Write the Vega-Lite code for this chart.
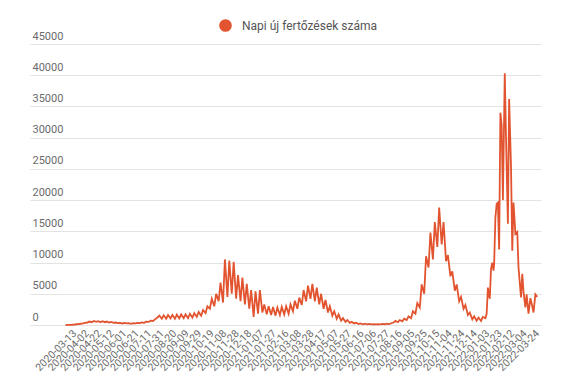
{
  "$schema": "https://vega.github.io/schema/vega-lite/v6.json",
  "width": 511,
  "height": 281,
  "autosize": {"type": "none"},
  "padding": {"left": 30, "top": 44, "right": 34, "bottom": 63},
  "background": "white",
  "config": {"view": {"stroke": null}, "font": "Roboto"},
  "data": {"values": [
    {"date": "2020-03-06", "cases": 0},
    {"date": "2020-03-09", "cases": 10},
    {"date": "2020-03-13", "cases": 20},
    {"date": "2020-03-16", "cases": 40},
    {"date": "2020-03-20", "cases": 80},
    {"date": "2020-03-23", "cases": 120},
    {"date": "2020-03-27", "cases": 150},
    {"date": "2020-03-30", "cases": 200},
    {"date": "2020-04-03", "cases": 250},
    {"date": "2020-04-06", "cases": 350},
    {"date": "2020-04-10", "cases": 400},
    {"date": "2020-04-13", "cases": 550},
    {"date": "2020-04-17", "cases": 450},
    {"date": "2020-04-20", "cases": 650},
    {"date": "2020-04-24", "cases": 500},
    {"date": "2020-04-27", "cases": 600},
    {"date": "2020-05-01", "cases": 450},
    {"date": "2020-05-04", "cases": 600},
    {"date": "2020-05-08", "cases": 450},
    {"date": "2020-05-11", "cases": 550},
    {"date": "2020-05-15", "cases": 400},
    {"date": "2020-05-18", "cases": 500},
    {"date": "2020-05-22", "cases": 350},
    {"date": "2020-05-25", "cases": 400},
    {"date": "2020-05-29", "cases": 300},
    {"date": "2020-06-01", "cases": 350},
    {"date": "2020-06-05", "cases": 250},
    {"date": "2020-06-08", "cases": 350},
    {"date": "2020-06-12", "cases": 250},
    {"date": "2020-06-15", "cases": 300},
    {"date": "2020-06-19", "cases": 200},
    {"date": "2020-06-22", "cases": 300},
    {"date": "2020-06-26", "cases": 250},
    {"date": "2020-06-29", "cases": 350},
    {"date": "2020-07-03", "cases": 300},
    {"date": "2020-07-06", "cases": 400},
    {"date": "2020-07-10", "cases": 350},
    {"date": "2020-07-13", "cases": 550},
    {"date": "2020-07-17", "cases": 500},
    {"date": "2020-07-20", "cases": 700},
    {"date": "2020-07-24", "cases": 650},
    {"date": "2020-07-27", "cases": 900},
    {"date": "2020-07-31", "cases": 1200},
    {"date": "2020-08-03", "cases": 1500},
    {"date": "2020-08-07", "cases": 1000},
    {"date": "2020-08-10", "cases": 1550},
    {"date": "2020-08-14", "cases": 1000},
    {"date": "2020-08-17", "cases": 1600},
    {"date": "2020-08-21", "cases": 1050},
    {"date": "2020-08-24", "cases": 1600},
    {"date": "2020-08-28", "cases": 1000},
    {"date": "2020-08-31", "cases": 1650},
    {"date": "2020-09-04", "cases": 1050},
    {"date": "2020-09-07", "cases": 1700},
    {"date": "2020-09-11", "cases": 1100},
    {"date": "2020-09-14", "cases": 1700},
    {"date": "2020-09-18", "cases": 1100},
    {"date": "2020-09-21", "cases": 1800},
    {"date": "2020-09-25", "cases": 1200},
    {"date": "2020-09-28", "cases": 1900},
    {"date": "2020-10-02", "cases": 1300},
    {"date": "2020-10-05", "cases": 2100},
    {"date": "2020-10-09", "cases": 1500},
    {"date": "2020-10-12", "cases": 2400},
    {"date": "2020-10-16", "cases": 1900},
    {"date": "2020-10-19", "cases": 3000},
    {"date": "2020-10-23", "cases": 2600},
    {"date": "2020-10-26", "cases": 4200},
    {"date": "2020-10-30", "cases": 3000},
    {"date": "2020-11-02", "cases": 5000},
    {"date": "2020-11-06", "cases": 3800},
    {"date": "2020-11-09", "cases": 6800},
    {"date": "2020-11-13", "cases": 3600},
    {"date": "2020-11-16", "cases": 10500},
    {"date": "2020-11-20", "cases": 4500},
    {"date": "2020-11-23", "cases": 10300},
    {"date": "2020-11-27", "cases": 5000},
    {"date": "2020-11-30", "cases": 10100},
    {"date": "2020-12-04", "cases": 4200},
    {"date": "2020-12-07", "cases": 8000},
    {"date": "2020-12-11", "cases": 3800},
    {"date": "2020-12-14", "cases": 7600},
    {"date": "2020-12-18", "cases": 3300},
    {"date": "2020-12-21", "cases": 6600},
    {"date": "2020-12-25", "cases": 2600},
    {"date": "2020-12-28", "cases": 5600},
    {"date": "2021-01-01", "cases": 1300},
    {"date": "2021-01-04", "cases": 5400},
    {"date": "2021-01-08", "cases": 1800},
    {"date": "2021-01-11", "cases": 5600},
    {"date": "2021-01-15", "cases": 2000},
    {"date": "2021-01-18", "cases": 3300},
    {"date": "2021-01-22", "cases": 1700},
    {"date": "2021-01-25", "cases": 3000},
    {"date": "2021-01-29", "cases": 1600},
    {"date": "2021-02-01", "cases": 2900},
    {"date": "2021-02-05", "cases": 1500},
    {"date": "2021-02-08", "cases": 2800},
    {"date": "2021-02-12", "cases": 1600},
    {"date": "2021-02-15", "cases": 2900},
    {"date": "2021-02-19", "cases": 1700},
    {"date": "2021-02-22", "cases": 3000},
    {"date": "2021-02-26", "cases": 1800},
    {"date": "2021-03-01", "cases": 3300},
    {"date": "2021-03-05", "cases": 2200},
    {"date": "2021-03-08", "cases": 3900},
    {"date": "2021-03-12", "cases": 2600},
    {"date": "2021-03-15", "cases": 4400},
    {"date": "2021-03-19", "cases": 3200},
    {"date": "2021-03-22", "cases": 5600},
    {"date": "2021-03-26", "cases": 3800},
    {"date": "2021-03-29", "cases": 6300},
    {"date": "2021-04-02", "cases": 4200},
    {"date": "2021-04-05", "cases": 6600},
    {"date": "2021-04-09", "cases": 3800},
    {"date": "2021-04-12", "cases": 6000},
    {"date": "2021-04-16", "cases": 3300},
    {"date": "2021-04-19", "cases": 5000},
    {"date": "2021-04-23", "cases": 2600},
    {"date": "2021-04-26", "cases": 4000},
    {"date": "2021-04-30", "cases": 2000},
    {"date": "2021-05-03", "cases": 3000},
    {"date": "2021-05-07", "cases": 1500},
    {"date": "2021-05-10", "cases": 2200},
    {"date": "2021-05-14", "cases": 1000},
    {"date": "2021-05-17", "cases": 1700},
    {"date": "2021-05-21", "cases": 700},
    {"date": "2021-05-24", "cases": 1100},
    {"date": "2021-05-28", "cases": 500},
    {"date": "2021-05-31", "cases": 800},
    {"date": "2021-06-04", "cases": 350},
    {"date": "2021-06-07", "cases": 500},
    {"date": "2021-06-11", "cases": 250},
    {"date": "2021-06-14", "cases": 350},
    {"date": "2021-06-18", "cases": 150},
    {"date": "2021-06-21", "cases": 250},
    {"date": "2021-06-25", "cases": 120},
    {"date": "2021-06-28", "cases": 200},
    {"date": "2021-07-02", "cases": 100},
    {"date": "2021-07-05", "cases": 180},
    {"date": "2021-07-09", "cases": 100},
    {"date": "2021-07-12", "cases": 150},
    {"date": "2021-07-16", "cases": 100},
    {"date": "2021-07-19", "cases": 150},
    {"date": "2021-07-23", "cases": 110},
    {"date": "2021-07-26", "cases": 170},
    {"date": "2021-07-30", "cases": 120},
    {"date": "2021-08-02", "cases": 200},
    {"date": "2021-08-06", "cases": 150},
    {"date": "2021-08-09", "cases": 280},
    {"date": "2021-08-13", "cases": 400},
    {"date": "2021-08-16", "cases": 650},
    {"date": "2021-08-20", "cases": 450},
    {"date": "2021-08-23", "cases": 800},
    {"date": "2021-08-27", "cases": 600},
    {"date": "2021-08-30", "cases": 1000},
    {"date": "2021-09-03", "cases": 800},
    {"date": "2021-09-06", "cases": 1400},
    {"date": "2021-09-10", "cases": 1100},
    {"date": "2021-09-13", "cases": 2200},
    {"date": "2021-09-17", "cases": 1800},
    {"date": "2021-09-20", "cases": 3500},
    {"date": "2021-09-24", "cases": 2800},
    {"date": "2021-09-27", "cases": 6500},
    {"date": "2021-10-01", "cases": 5000},
    {"date": "2021-10-04", "cases": 11000},
    {"date": "2021-10-08", "cases": 9200},
    {"date": "2021-10-11", "cases": 14800},
    {"date": "2021-10-15", "cases": 10500},
    {"date": "2021-10-18", "cases": 16500},
    {"date": "2021-10-22", "cases": 12500},
    {"date": "2021-10-25", "cases": 18800},
    {"date": "2021-10-29", "cases": 12900},
    {"date": "2021-11-01", "cases": 16500},
    {"date": "2021-11-05", "cases": 10200},
    {"date": "2021-11-08", "cases": 11200},
    {"date": "2021-11-12", "cases": 7800},
    {"date": "2021-11-15", "cases": 8600},
    {"date": "2021-11-19", "cases": 5500},
    {"date": "2021-11-22", "cases": 6500},
    {"date": "2021-11-26", "cases": 3800},
    {"date": "2021-11-29", "cases": 4500},
    {"date": "2021-12-03", "cases": 2600},
    {"date": "2021-12-06", "cases": 3200},
    {"date": "2021-12-10", "cases": 1600},
    {"date": "2021-12-13", "cases": 2000},
    {"date": "2021-12-17", "cases": 900},
    {"date": "2021-12-20", "cases": 1400},
    {"date": "2021-12-24", "cases": 700},
    {"date": "2021-12-27", "cases": 1200},
    {"date": "2021-12-31", "cases": 650},
    {"date": "2022-01-03", "cases": 1300},
    {"date": "2022-01-07", "cases": 1100},
    {"date": "2022-01-09", "cases": 1800},
    {"date": "2022-01-11", "cases": 6000},
    {"date": "2022-01-14", "cases": 4200},
    {"date": "2022-01-16", "cases": 9000},
    {"date": "2022-01-18", "cases": 10000},
    {"date": "2022-01-20", "cases": 8700},
    {"date": "2022-01-21", "cases": 9800},
    {"date": "2022-01-23", "cases": 17200},
    {"date": "2022-01-25", "cases": 19400},
    {"date": "2022-01-27", "cases": 19600},
    {"date": "2022-01-29", "cases": 12100},
    {"date": "2022-01-31", "cases": 34000},
    {"date": "2022-02-02", "cases": 32000},
    {"date": "2022-02-04", "cases": 20000},
    {"date": "2022-02-07", "cases": 40300},
    {"date": "2022-02-09", "cases": 30000},
    {"date": "2022-02-12", "cases": 16200},
    {"date": "2022-02-14", "cases": 36200},
    {"date": "2022-02-17", "cases": 25300},
    {"date": "2022-02-19", "cases": 11900},
    {"date": "2022-02-21", "cases": 19600},
    {"date": "2022-02-24", "cases": 14600},
    {"date": "2022-02-27", "cases": 14900},
    {"date": "2022-03-01", "cases": 9200},
    {"date": "2022-03-05", "cases": 4400},
    {"date": "2022-03-07", "cases": 8200},
    {"date": "2022-03-09", "cases": 5300},
    {"date": "2022-03-12", "cases": 2800},
    {"date": "2022-03-14", "cases": 4900},
    {"date": "2022-03-17", "cases": 1800},
    {"date": "2022-03-20", "cases": 4300},
    {"date": "2022-03-23", "cases": 3000},
    {"date": "2022-03-25", "cases": 2000},
    {"date": "2022-03-28", "cases": 4900},
    {"date": "2022-03-31", "cases": 4500}
  ]},
  "mark": {"type": "line", "strokeWidth": 1.8, "interpolate": "linear"},
  "encoding": {
    "x": {
      "field": "date",
      "type": "temporal",
      "scale": {"type": "utc", "domain": [{"year": 2020, "month": 1, "date": 9, "utc": true}, {"year": 2022, "month": 4, "date": 6, "utc": true}]},
      "axis": {
        "values": [
          {"year": 2020, "month": 3, "date": 13, "utc": true},
          {"year": 2020, "month": 4, "date": 2, "utc": true},
          {"year": 2020, "month": 4, "date": 22, "utc": true},
          {"year": 2020, "month": 5, "date": 12, "utc": true},
          {"year": 2020, "month": 6, "date": 1, "utc": true},
          {"year": 2020, "month": 6, "date": 21, "utc": true},
          {"year": 2020, "month": 7, "date": 11, "utc": true},
          {"year": 2020, "month": 7, "date": 31, "utc": true},
          {"year": 2020, "month": 8, "date": 20, "utc": true},
          {"year": 2020, "month": 9, "date": 9, "utc": true},
          {"year": 2020, "month": 9, "date": 29, "utc": true},
          {"year": 2020, "month": 10, "date": 19, "utc": true},
          {"year": 2020, "month": 11, "date": 8, "utc": true},
          {"year": 2020, "month": 11, "date": 28, "utc": true},
          {"year": 2020, "month": 12, "date": 18, "utc": true},
          {"year": 2021, "month": 1, "date": 7, "utc": true},
          {"year": 2021, "month": 1, "date": 27, "utc": true},
          {"year": 2021, "month": 2, "date": 16, "utc": true},
          {"year": 2021, "month": 3, "date": 8, "utc": true},
          {"year": 2021, "month": 3, "date": 28, "utc": true},
          {"year": 2021, "month": 4, "date": 17, "utc": true},
          {"year": 2021, "month": 5, "date": 7, "utc": true},
          {"year": 2021, "month": 5, "date": 27, "utc": true},
          {"year": 2021, "month": 6, "date": 16, "utc": true},
          {"year": 2021, "month": 7, "date": 6, "utc": true},
          {"year": 2021, "month": 7, "date": 27, "utc": true},
          {"year": 2021, "month": 8, "date": 16, "utc": true},
          {"year": 2021, "month": 9, "date": 5, "utc": true},
          {"year": 2021, "month": 9, "date": 25, "utc": true},
          {"year": 2021, "month": 10, "date": 15, "utc": true},
          {"year": 2021, "month": 11, "date": 4, "utc": true},
          {"year": 2021, "month": 11, "date": 24, "utc": true},
          {"year": 2021, "month": 12, "date": 14, "utc": true},
          {"year": 2022, "month": 1, "date": 3, "utc": true},
          {"year": 2022, "month": 1, "date": 23, "utc": true},
          {"year": 2022, "month": 2, "date": 12, "utc": true},
          {"year": 2022, "month": 3, "date": 4, "utc": true},
          {"year": 2022, "month": 3, "date": 24, "utc": true}
        ],
        "labelExpr": "utcFormat(datum.value, '%Y-%m-%d')",
        "labelAngle": -45,
        "grid": false,
        "ticks": false,
        "domain": false,
        "title": null,
        "labelFontSize": 10.5,
        "labelColor": "#6b6b6b",
        "labelPadding": 3,
        "labelOffset": 1,
        "labelOverlap": false,
        "labelBound": false,
        "labelFlush": false
      }
    },
    "y": {
      "field": "cases",
      "type": "quantitative",
      "scale": {"domain": [0, 45000], "nice": false},
      "axis": {
        "values": [0, 5000, 10000, 15000, 20000, 25000, 30000, 35000, 40000, 45000],
        "format": "d",
        "title": null,
        "domain": false,
        "ticks": false,
        "labelAlign": "left",
        "labelBaseline": "bottom",
        "labelPadding": -2,
        "labelOffset": -3,
        "labelFontSize": 11,
        "labelColor": "#6b6b6b",
        "gridColor": "#e3e3e3",
        "gridWidth": 1.2
      }
    },
    "color": {
      "datum": "Napi új fertőzések száma",
      "scale": {"range": ["#e2542f"]},
      "legend": {
        "title": null,
        "orient": "none",
        "legendX": 189,
        "legendY": -25,
        "padding": 0,
        "symbolType": "circle",
        "symbolSize": 160,
        "symbolFillColor": "#e2542f",
        "symbolStrokeWidth": 0,
        "labelFontSize": 12,
        "labelColor": "#555555",
        "labelOffset": 10
      }
    }
  }
}
